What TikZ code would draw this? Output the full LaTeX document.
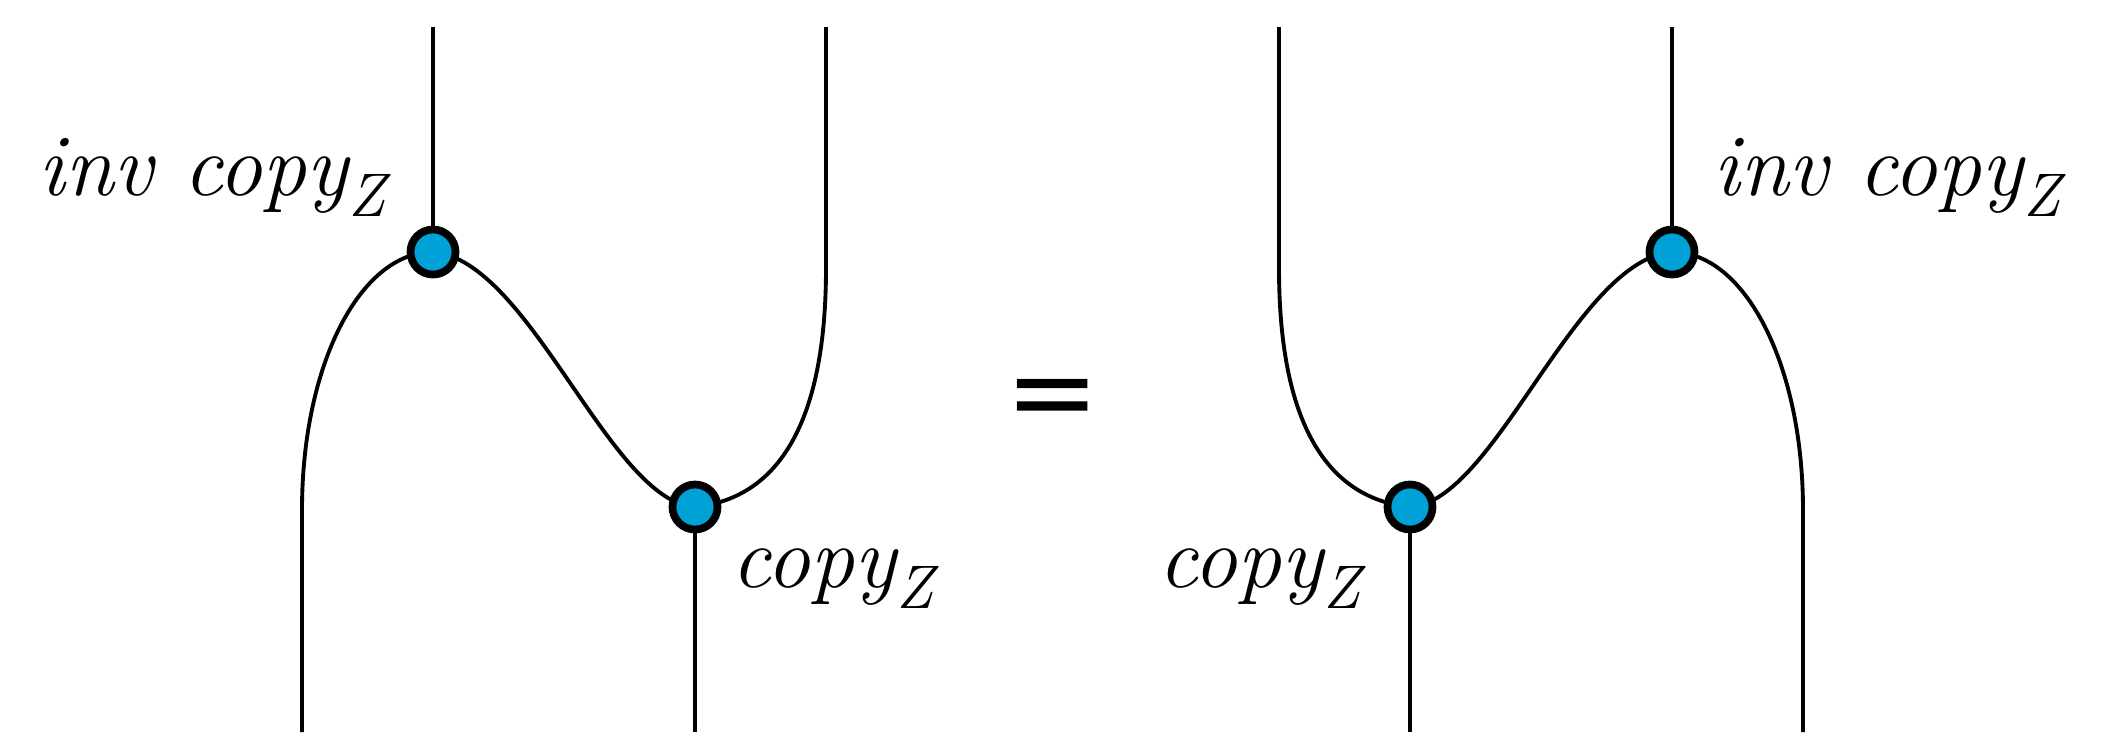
\documentclass[tikz,border=0pt]{standalone}
\usepackage{fontspec}
\newfontfamily\eqfont{DejaVu Sans}
\definecolor{dotblue}{RGB}{0,161,214}
\newcommand{\subZ}{\raisebox{-6pt}{\fontsize{17.5}{20}\selectfont Z}}
\tikzset{
  wire/.style={line width=1.1pt, black},
  dotnode/.style={circle, draw=black, fill=dotblue, line width=2.2pt, minimum size=0.45cm, inner sep=0pt},
  lbl/.style={anchor=base west, inner sep=0pt, font=\fontsize{25}{30}\selectfont\itshape}
}
\begin{document}
\begin{tikzpicture}[x=0.01cm, y=-0.01cm]
\useasboundingbox (0,0) rectangle (2105,744);
% ---------- left diagram ----------
\coordinate (a1c) at (433,252);
\coordinate (b1c) at (695,507);
\coordinate (la) at (433,27);
\coordinate (lb) at (302,732);
\coordinate (lbm) at (302,510);
\coordinate (lc) at (826,27);
\coordinate (lcm) at (826,268);
\coordinate (ld) at (695,732);
\draw[wire] (la) -- (a1c);
\draw[wire] (lb) -- (lbm) .. controls (302,365) and (360,252) .. (a1c);
\draw[wire] (a1c) .. controls (530,260) and (610,502) .. (b1c);
\draw[wire] (b1c) .. controls (780,498) and (826,420) .. (lcm) -- (lc);
\draw[wire] (b1c) -- (ld);
\node[dotnode] (a1) at (a1c) {};
\node[dotnode] (b1) at (b1c) {};
% ---------- right diagram ----------
\coordinate (a2c) at (1672,252);
\coordinate (b2c) at (1410,507);
\coordinate (ra) at (1672,27);
\coordinate (rb) at (1803,732);
\coordinate (rbm) at (1803,510);
\coordinate (rc) at (1279,27);
\coordinate (rcm) at (1279,268);
\coordinate (rd) at (1410,732);
\draw[wire] (ra) -- (a2c);
\draw[wire] (rb) -- (rbm) .. controls (1803,365) and (1745,252) .. (a2c);
\draw[wire] (a2c) .. controls (1575,260) and (1495,502) .. (b2c);
\draw[wire] (b2c) .. controls (1325,498) and (1279,420) .. (rcm) -- (rc);
\draw[wire] (b2c) -- (rd);
\node[dotnode] (a2) at (a2c) {};
\node[dotnode] (b2) at (b2c) {};
% ---------- labels ----------
\node[lbl] (l1) at (38,195) {inv copy\subZ};
\node[lbl] (l2) at (731,587) {copy\subZ};
\node[lbl] (l3) at (1158,587) {copy\subZ};
\node[lbl] (l4) at (1713,195) {inv copy\subZ};
\node[inner sep=0pt, font=\eqfont\fontsize{32}{36}\selectfont] (eq) at (1053,405) {=};
\end{tikzpicture}
\end{document}
